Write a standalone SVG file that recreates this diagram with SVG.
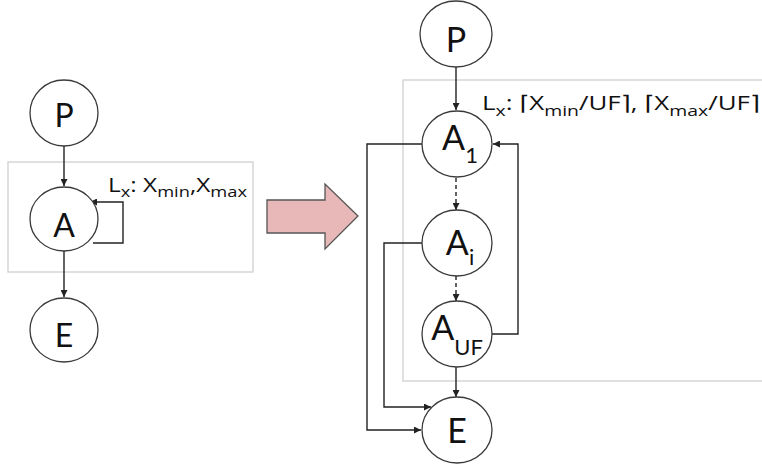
<svg xmlns="http://www.w3.org/2000/svg" width="762" height="467" viewBox="0 0 762 467">
<style>
.node{fill:#fff;stroke:#3a3a3a;stroke-width:1.3}
.t{font-family:Lato,"Open Sans","DejaVu Sans",sans-serif;fill:#111;text-anchor:middle}
.lbl{font-family:"Open Sans",Lato,"DejaVu Sans",sans-serif;fill:#111;font-size:20px}
.box{fill:none;stroke:#d6d6d6;stroke-width:1.5}
.c{fill:none;stroke:#222;stroke-width:1.4}
.d{stroke-dasharray:4,3}
</style>
<defs>
<marker id="ah" viewBox="0 0 10 10" refX="10" refY="5" markerWidth="7" markerHeight="7" markerUnits="userSpaceOnUse" orient="auto">
<path d="M0,0 L10,5 L0,10 z" fill="#222"/>
</marker>
</defs>
<rect width="762" height="467" fill="#fff"/>
<rect class="box" x="8" y="162" width="245" height="110"/>
<rect class="box" x="403" y="80" width="370" height="301"/>
<text class="lbl" x="108" y="192" textLength="139" lengthAdjust="spacingAndGlyphs">L<tspan font-size="15" dy="5">x</tspan><tspan dy="-5">: X</tspan><tspan font-size="15" dy="5">min</tspan><tspan dy="-5">,X</tspan><tspan font-size="15" dy="5">max</tspan></text>
<text class="lbl" x="482" y="110" textLength="278" lengthAdjust="spacingAndGlyphs">L<tspan font-size="15" dy="6">x</tspan><tspan dy="-6">: ⌈X</tspan><tspan font-size="15" dy="6">min</tspan><tspan dy="-6">/UF⌉, ⌈X</tspan><tspan font-size="15" dy="6">max</tspan><tspan dy="-6">/UF⌉</tspan></text>
<path d="M267,200 H325 V184 L358,216 L325,249 V233 H267 Z" fill="#e8b8b8" stroke="#555" stroke-width="1.3"/>
<g id="connectors">
<line class="c" x1="64" y1="146" x2="64" y2="186" marker-end="url(#ah)"/>
<line class="c" x1="64" y1="251" x2="64" y2="297" marker-end="url(#ah)"/>
<path class="c" d="M93,243 H123 V202 H90" marker-end="url(#ah)"/>
<line class="c" x1="456" y1="67" x2="456" y2="110" marker-end="url(#ah)"/>
<line class="c d" x1="456" y1="178" x2="456" y2="210" marker-end="url(#ah)"/>
<line class="c d" x1="456" y1="276" x2="456" y2="301" marker-end="url(#ah)"/>
<line class="c" x1="456" y1="367" x2="456" y2="397" marker-end="url(#ah)"/>
<path class="c" d="M491,334 H518 V144 H493" marker-end="url(#ah)"/>
<path class="c" d="M422,144 H367 V430 H421" marker-end="url(#ah)"/>
<path class="c" d="M422,243 H384 V407 H431" marker-end="url(#ah)"/>
</g>
<g id="P_left"><ellipse class="node" cx="64" cy="113" rx="34" ry="33"/><text class="t" x="64" y="127" font-size="32">P</text></g>
<g id="A_left"><ellipse class="node" cx="64" cy="219" rx="34" ry="32"/><text class="t" x="64" y="237" font-size="32">A</text></g>
<g id="E_left"><ellipse class="node" cx="64" cy="330" rx="34" ry="32"/><text class="t" x="64" y="347" font-size="32">E</text></g>
<g id="P_right"><ellipse class="node" cx="456" cy="34" rx="36" ry="33"/><text class="t" x="456" y="52" font-size="34">P</text></g>
<g id="A1"><ellipse class="node" cx="457" cy="144" rx="35" ry="33"/><text class="t" x="460" y="150" font-size="34">A<tspan font-size="22" dy="13">1</tspan></text></g>
<g id="Ai"><ellipse class="node" cx="457" cy="243" rx="35" ry="33"/><text class="t" x="460" y="255" font-size="34">A<tspan font-size="22" dy="10">i</tspan></text></g>
<g id="AUF"><ellipse class="node" cx="457" cy="334" rx="35" ry="33"/><text class="t" x="457" y="340" font-size="34">A<tspan font-size="22" dy="15">UF</tspan></text></g>
<g id="E_right"><ellipse class="node" cx="457" cy="430" rx="35" ry="33"/><text class="t" x="457" y="443" font-size="34">E</text></g>
</svg>
